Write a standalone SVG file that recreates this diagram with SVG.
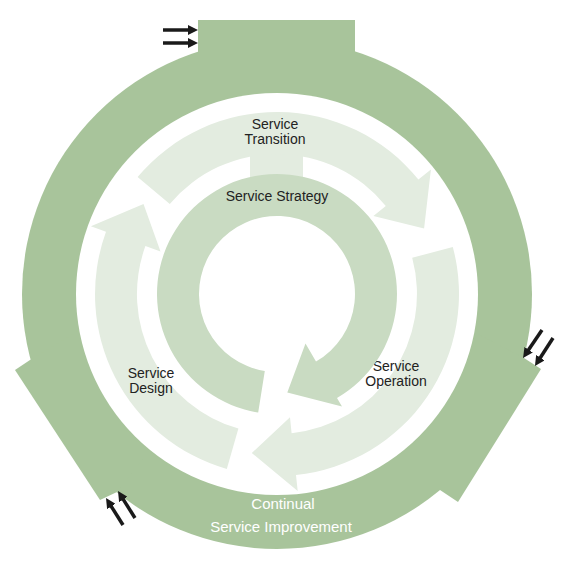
<svg xmlns="http://www.w3.org/2000/svg" width="569" height="567" viewBox="0 0 569 567">
  <style>
    .ring { fill: #a8c49b; }
    .strategy { fill: #c9dbc2; }
    .light { fill: #e3ece0; }
    .lbl { font-family: "Liberation Sans", Arial, sans-serif; font-size: 14px; fill: #222222; text-anchor: middle; }
    .lblw { font-family: "Liberation Sans", Arial, sans-serif; font-size: 15px; fill: #ffffff; text-anchor: middle; }
    .blk { stroke: #1a1a1a; stroke-width: 3.5; fill: none; marker-end: url(#ah); }
  </style>
  <defs>
    <marker id="ah" viewBox="0 0 10 10" refX="4" refY="5" markerWidth="10" markerHeight="10" markerUnits="userSpaceOnUse" orient="auto">
      <path d="M0,0 L10,5 L0,10 z" fill="#1a1a1a"/>
    </marker>
  </defs>
  <rect width="569" height="567" fill="#ffffff"/>

  <g id="continual-service-improvement">
    <circle class="ring" cx="277" cy="294" r="255"/>
    <polygon class="ring" points="198,20 355,20 355,75 198,75"/>
    <polygon class="ring" points="30,360 15,370 100,500 117,492 150,450 80,330"/>
    <polygon class="ring" points="524,358 541,369 458,502 440,490 400,450 470,330"/>
    <circle cx="277" cy="294" r="201" fill="#ffffff"/>
    <text class="lblw" x="283" y="509">Continual</text>
    <text class="lblw" x="281" y="532">Service Improvement</text>
  </g>

  <g id="service-transition">
    <rect class="light" x="250" y="148" width="53" height="32"/>
    <path class="light" d="M137.6,177.0 A182,182 0 0 1 418.4,179.5 L430.9,169.4 L424.1,228.5 L373.4,216.0 L385.8,205.9 A140,140 0 0 0 169.8,204.0 Z"/>
    <text class="lbl" x="275" y="129">Service</text>
    <text class="lbl" x="275" y="144">Transition</text>
  </g>

  <g id="service-operation">
    <path class="light" d="M452.8,246.9 A182,182 0 0 1 296.0,475.0 L297.7,490.9 L251.8,453.0 L290.0,417.3 L291.6,433.2 A140,140 0 0 0 412.2,257.8 Z"/>
    <text class="lbl" x="396" y="371">Service</text>
    <text class="lbl" x="396" y="386">Operation</text>
  </g>

  <g id="service-design">
    <path class="light" d="M226.8,469.0 A182,182 0 0 1 106.0,231.8 L90.9,226.3 L143.5,204.0 L160.5,251.6 L145.4,246.1 A140,140 0 0 0 238.4,428.6 Z"/>
    <text class="lbl" x="151" y="378">Service</text>
    <text class="lbl" x="151" y="393">Design</text>
  </g>

  <g id="service-strategy">
    <path class="strategy" d="M258.2,412.5 A120,120 0 1 1 337.0,397.9 L342.0,406.6 L287.3,392.5 L305.5,343.4 L316.0,361.5 A78,78 0 1 0 264.8,371.0 Z"/>
    <text class="lbl" x="277" y="201">Service Strategy</text>
  </g>

  <g id="connectors">
    <line class="blk" x1="163" y1="30" x2="192" y2="30"/>
    <line class="blk" x1="163" y1="43" x2="192" y2="43"/>
    <line class="blk" x1="542" y1="330" x2="526.4" y2="353"/>
    <line class="blk" x1="553" y1="338" x2="538.2" y2="361"/>
    <line class="blk" x1="123" y1="525" x2="109.2" y2="503.1"/>
    <line class="blk" x1="135" y1="518" x2="121.2" y2="496.1"/>
  </g>
</svg>
